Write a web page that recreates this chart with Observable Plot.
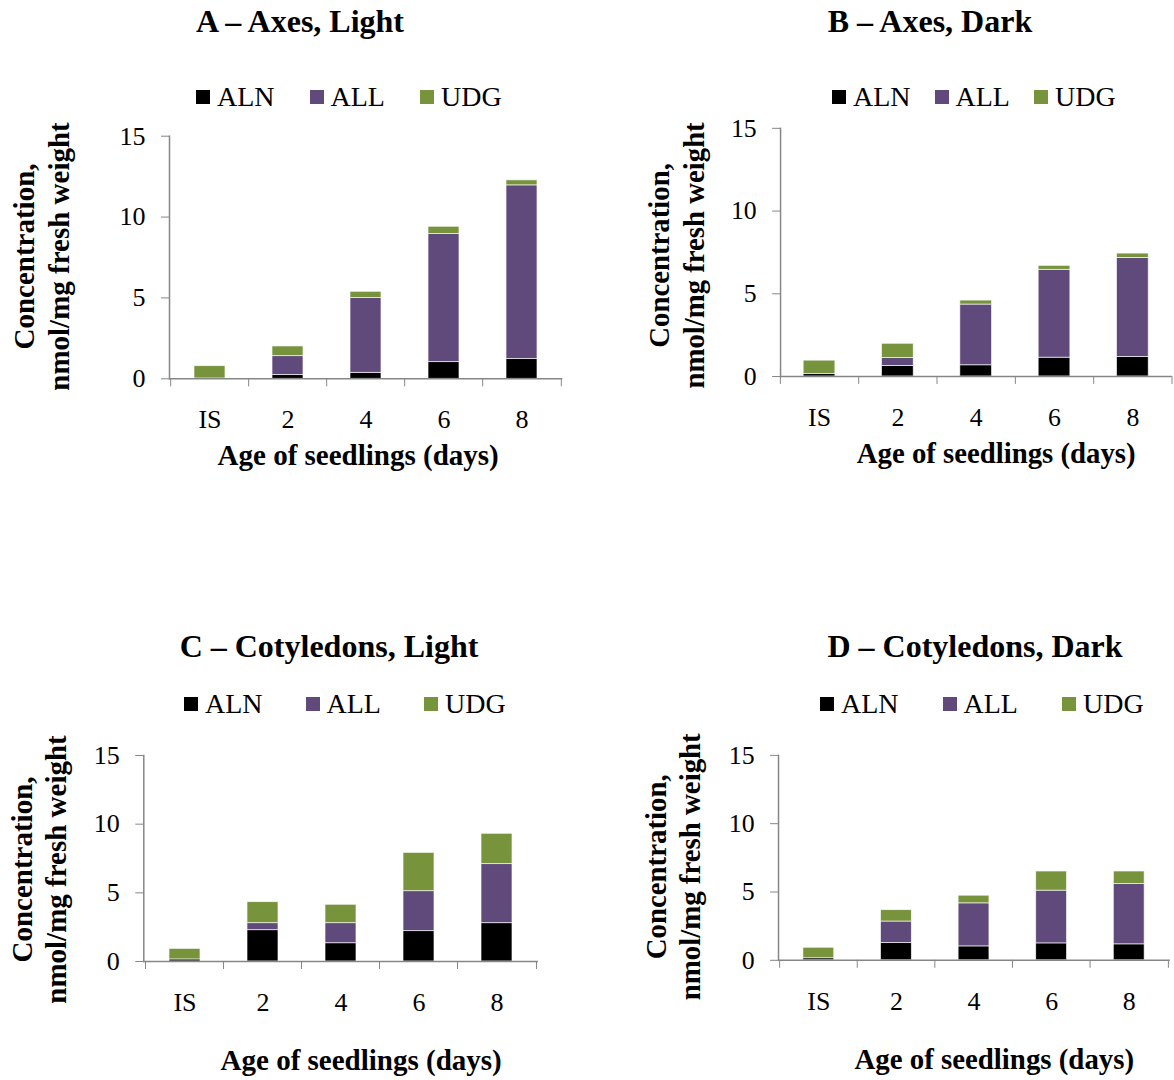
<!DOCTYPE html>
<html><head><meta charset="utf-8">
<script src="https://cdn.jsdelivr.net/npm/d3@7"></script>
<script src="https://cdn.jsdelivr.net/npm/@observablehq/plot@0.6"></script>
<style>
html,body{margin:0;padding:0;background:#fff;overflow:hidden;}
#root{position:relative;width:1174px;height:1080px;font-family:"Liberation Serif","Times New Roman",serif;color:#000;overflow:hidden;}
.title{position:absolute;width:600px;text-align:center;font-weight:bold;font-size:32px;line-height:32px;white-space:nowrap;}
.legend{position:absolute;display:flex;align-items:center;font-size:28px;line-height:28px;white-space:nowrap;}
.legend .item{display:flex;align-items:center;}
.legend .sw{width:14px;height:14px;margin-right:7px;}
.panel{position:absolute;}
</style></head><body><div id="root"></div>
<script>
// ---- data ----
const categories = ["IS", "2", "4", "6", "8"];
const seriesNames = ["ALN", "ALL", "UDG"];
const seriesColors = ["#000000", "#604A7B", "#77933C"];
const yTicks = [0, 5, 10, 15];
const panelTitles = ["A \u2013 Axes, Light", "B \u2013 Axes, Dark", "C \u2013 Cotyledons, Light", "D \u2013 Cotyledons, Dark"];
const xAxisLabel = "Age of seedlings (days)";
const yAxisLabel = "Concentration,\nnmol/mg fresh weight";

const aAln = [0.02, 0.23, 0.37, 1.03, 1.22];
const aAll = [0.00, 1.17, 4.62, 7.92, 10.74];
const aUdg = [0.76, 0.60, 0.39, 0.45, 0.31];

const bAln = [0.16, 0.64, 0.68, 1.14, 1.18];
const bAll = [0.00, 0.48, 3.67, 5.31, 5.99];
const bUdg = [0.80, 0.86, 0.24, 0.24, 0.26];

const cAln = [0.15, 2.28, 1.33, 2.21, 2.79];
const cAll = [0.00, 0.51, 1.46, 2.91, 4.30];
const cUdg = [0.77, 1.53, 1.34, 2.79, 2.21];

const dAln = [0.15, 1.26, 1.02, 1.24, 1.17];
const dAll = [0.00, 1.58, 3.15, 3.86, 4.41];
const dUdg = [0.77, 0.83, 0.56, 1.40, 0.92];

const panelSeries = [[aAln, aAll, aUdg], [bAln, bAll, bUdg], [cAln, cAll, cUdg], [dAln, dAll, dUdg]];

// ---- layout ----
const gray = "#868686";
const font = "'Liberation Serif','Times New Roman',serif";
const layouts = [
  {left: 0,   top: 110, width: 587, height: 380, mL: 169,   mR: 24.7, mT: 25.7, mB: 111.7,
   yLabDx: -129, yLabDy: -1, xLabDx: -8, xLabDy: 77,
   titleX: 300, titleY: 21, legX: 196, legY: 97, legGap: 35},
  {left: 587, top: 110, width: 592, height: 380, mL: 194.7, mR: 2.3,  mT: 18,   mB: 111.7,
   yLabDx: -106, yLabDy: 3, xLabDx: 20, xLabDy: 78,
   titleX: 930, titleY: 21, legX: 832, legY: 97, legGap: 24},
  {left: 0,   top: 730, width: 587, height: 350, mL: 143.3, mR: 49,   mT: 25,   mB: 119,
   yLabDx: -106, yLabDy: 11, xLabDx: 20, xLabDy: 99,
   titleX: 329, titleY: 646, legX: 184, legY: 704, legGap: 43},
  {left: 587, top: 730, width: 590, height: 350, mL: 192,   mR: 4.3,  mT: 25,   mB: 119,
   yLabDx: -107, yLabDy: 9, xLabDx: 20, xLabDy: 100,
   titleX: 975, titleY: 646, legX: 820, legY: 704, legGap: 44}
];

const root = document.getElementById("root");

panelSeries.forEach((series, p) => {
  const L = layouts[p];
  const rows = [];
  seriesNames.forEach((s, si) => {
    categories.forEach((c, ci) => {
      if (series[si][ci] > 0) rows.push({cat: c, series: s, value: series[si][ci]});
    });
  });
  const step = (L.width - L.mL - L.mR) / categories.length;

  const chart = Plot.plot({
    width: L.width, height: L.height,
    marginLeft: L.mL, marginRight: L.mR, marginTop: L.mT, marginBottom: L.mB,
    style: {fontFamily: font, background: "transparent", color: "#000", overflow: "visible"},
    x: {domain: categories, paddingInner: 0.6, paddingOuter: 0.3, label: null, axis: null},
    y: {domain: [0, 15], label: null, axis: null},
    color: {domain: seriesNames, range: seriesColors},
    marks: [
      Plot.barY(rows, {x: "cat", y: "value", fill: "series", stroke: "white", strokeWidth: 0.8, strokeOpacity: 0.8}),
      Plot.ruleY([0], {stroke: gray, strokeWidth: 1.5}),
      Plot.frame({anchor: "left", stroke: gray, strokeWidth: 1.5}),
      Plot.axisY({ticks: yTicks, tickSize: 8, tickPadding: 16, fontSize: 26, stroke: gray, fill: "#000", label: null}),
      Plot.axisX({tickSize: 0, tickPadding: 31, fontSize: 26, fill: "#000", label: null}),
      Plot.axisX(categories, {tickSize: 8, dx: -step / 2, tickFormat: () => "", stroke: gray, label: null}),
      Plot.axisX(categories.slice(-1), {tickSize: 8, dx: step / 2, tickFormat: () => "", stroke: gray, label: null}),
      Plot.text([yAxisLabel], {text: d => d, frameAnchor: "left", dx: L.yLabDx, dy: L.yLabDy, rotate: -90,
        textAnchor: "middle", lineAnchor: "middle", lineHeight: 1.2, fontSize: 29, fontWeight: "bold", fill: "#000"}),
      Plot.text([xAxisLabel], {text: d => d, frameAnchor: "bottom", dx: L.xLabDx, dy: L.xLabDy,
        textAnchor: "middle", lineAnchor: "middle", fontSize: 29, fontWeight: "bold", fill: "#000"})
    ]
  });
  const holder = document.createElement("div");
  holder.className = "panel";
  holder.style.left = L.left + "px";
  holder.style.top = L.top + "px";
  holder.appendChild(chart);
  root.appendChild(holder);

  const title = document.createElement("div");
  title.className = "title";
  title.textContent = panelTitles[p];
  title.style.left = (L.titleX - 300) + "px";
  title.style.top = (L.titleY - 16) + "px";
  root.appendChild(title);

  const legend = document.createElement("div");
  legend.className = "legend";
  legend.style.left = L.legX + "px";
  legend.style.top = (L.legY - 14) + "px";
  legend.style.gap = L.legGap + "px";
  seriesNames.forEach((s, i) => {
    const item = document.createElement("div");
    item.className = "item";
    const sw = document.createElement("span");
    sw.className = "sw";
    sw.style.background = seriesColors[i];
    const tx = document.createElement("span");
    tx.textContent = s;
    item.appendChild(sw);
    item.appendChild(tx);
    legend.appendChild(item);
  });
  root.appendChild(legend);
});
</script>
</body></html>
